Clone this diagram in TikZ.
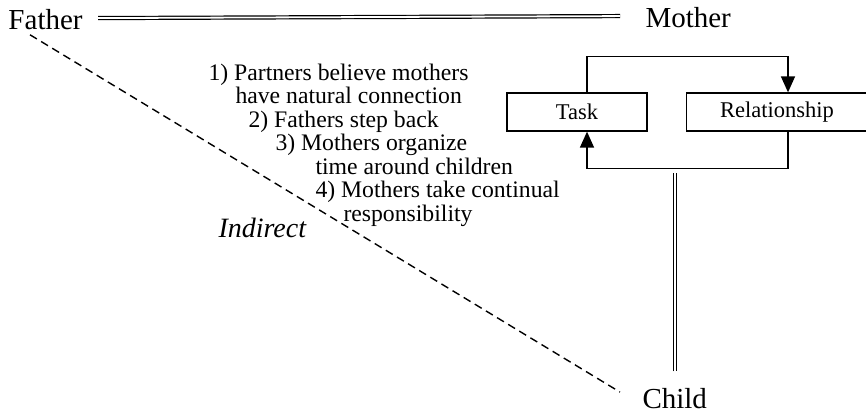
\documentclass[tikz,border=0pt]{standalone}
\usepackage{fontspec}
\setmainfont{Liberation Serif}
\usetikzlibrary{arrows.meta}

\tikzset{every picture/.style={line width=1pt}}
\tikzset{
  role/.style={inner sep=0pt,font=\fontsize{29}{34}\selectfont},
  stepline/.style={inner sep=0pt,anchor=base west,font=\fontsize{23.7}{28}\selectfont},
  boxnode/.style={draw,line width=1.3pt,inner sep=0pt,minimum height=38pt,font=\fontsize{22.5}{26}\selectfont},
  dbl/.style={double,line width=1.2pt,double distance=1.8pt},
  loop/.style={line width=1.5pt,-{Triangle[width=14pt,length=16pt]}},
}

\begin{document}
\begin{tikzpicture}[x=1pt,y=1pt,yscale=-1,xscale=1]
\useasboundingbox (0,0) rectangle (866,415);

% Text Node
\node[role,anchor=base west] (father) at (8,29) {Father};
% Text Node
\node[role,anchor=base west] (mother) at (645,27) {Mother};
% Text Node
\node[role,anchor=base west] (child) at (642,408) {Child};

% Boxes
\node[boxnode,minimum width=140pt] (task) at (577,112) {Task};
\node[boxnode,minimum width=181pt] (rel) at (777,112) {Relationship};

%Double Lines
\draw[dbl] ([xshift=15pt,yshift=-1pt]father.east) -- ([xshift=-25pt,yshift=-1pt]mother.west);
\draw[dbl] ([xshift=0.5pt,yshift=-16pt]child.north) -- ++(0,-198);

%Dashed Line
\draw[dashed,dash pattern=on 8pt off 5pt,line width=1.4pt] ([xshift=22pt,yshift=5pt]father.south west) -- ([xshift=-22pt,yshift=-6pt]child.west);

%Loop
\draw[loop] ([xshift=10pt]task.north) -- ++(0,-36) -| ([xshift=11pt]rel.north);
\draw[loop] ([xshift=11pt]rel.south) -- ++(0,37) -| ([xshift=10pt]task.south);

% Text Node
\node[stepline] (s1a) at (208,80) {1) Partners believe mothers};
\node[stepline] (s1b) at (235,103.5) {have natural connection};
\node[stepline] (s2) at (248,127) {2) Fathers step back};
\node[stepline] (s3a) at (275,150.5) {3) Mothers organize};
\node[stepline] (s3b) at (315,174) {time around children};
\node[stepline] (s4a) at (315,197.5) {4) Mothers take continual};
\node[stepline] (s4b) at (343,221) {responsibility};

% Text Node
\node[inner sep=0pt,anchor=base west,font=\fontsize{28}{32}\selectfont\itshape] (indirect) at (218,237) {Indirect};

\end{tikzpicture}
\end{document}
